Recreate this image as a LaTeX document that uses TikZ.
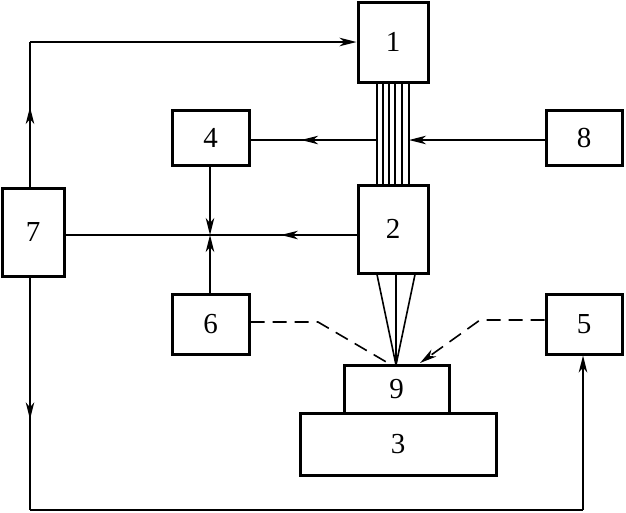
\documentclass[tikz,border=0pt]{standalone}
\usepackage{fontspec}
\setmainfont{Liberation Serif}
\usetikzlibrary{arrows.meta,decorations.markings}
\begin{document}
\begin{tikzpicture}[x=1pt,y=-1pt,
  blk/.style={draw,line width=3pt,inner sep=0pt,font=\fontsize{29}{29}\selectfont},
  ln/.style={line width=1.6pt},
  tip/.style={-{Stealth[length=17pt,width=8.5pt,inset=5pt]}},
  midarr/.style={postaction={decorate},decoration={markings,mark=at position #1 with {\arrow{Stealth[length=17pt,width=8.5pt,inset=5pt]}}}},
  dsh/.style={line width=1.6pt,dash pattern=on 14pt off 8pt}]
\useasboundingbox (0,0) rectangle (626,512);
\node[blk,minimum width=70pt,minimum height=80pt] (b1) at (393,42) {1};
\node[blk,minimum width=70pt,minimum height=88pt] (b2) at (393,229) {2};
\node[blk,minimum width=77pt,minimum height=55pt] (b4) at (210.5,137.5) {4};
\node[blk,minimum width=76pt,minimum height=55pt] (b8) at (584,137.5) {8};
\node[blk,minimum width=62pt,minimum height=88pt] (b7) at (33,232) {7};
\node[blk,minimum width=77pt,minimum height=60pt] (b6) at (210.5,324) {6};
\node[blk,minimum width=76pt,minimum height=60pt] (b5) at (584,324) {5};
\node[blk,minimum width=105pt,minimum height=48pt] (b9) at (396.5,389) {9};
\node[blk,minimum width=196pt,minimum height=62pt] (b3) at (398,444) {3};
% fibre bundle
\foreach \dx [count=\i] in {-16,-10,-4,2,9,16}
  \draw[ln] ([xshift=\dx pt]b1.south) coordinate (f\i) -- ([xshift=\dx pt]b2.north);
\coordinate (fl) at (377,140);
\coordinate (fr) at (409,140);
\coordinate (tl) at (30,42);
\coordinate (jn) at (210,235);
\coordinate (bl) at (30,510);
\coordinate (br) at (583,510);
\coordinate (focus) at (396,365);
\coordinate (d6) at (318,322);
\coordinate (d5) at (480,320);
% 7 -> 1
\draw[ln,midarr=0.55] (b7.north -| tl) -- (tl);
\draw[ln,tip] (tl) -- (b1.west |- tl);
% bundle -> 4, 8 -> bundle
\draw[ln,midarr=0.6] (fl) -- (b4.east |- fl);
\draw[ln,tip] (b8.west |- fr) -- (fr);
% 2 -> 7 line with junction
\draw[ln,midarr=0.26] (b2.west |- jn) -- (b7.east |- jn);
\draw[ln,tip] (b4.south -| jn) -- (jn);
\draw[ln,tip] (b6.north -| jn) -- (jn);
% 7 -> 5
\draw[ln,midarr=0.61] (b7.south -| bl) -- (bl);
\draw[ln] (bl) -- (br);
\draw[ln,tip] (br) -- (b5.south -| br);
% beam
\draw[ln] ([xshift=-16pt]b2.south) -- (focus);
\draw[ln] ([xshift=3pt]b2.south) -- (focus);
\draw[ln] ([xshift=22pt]b2.south) -- (focus);
% dashed
\draw[dsh] (b6.east |- d6) -- (d6) -- (388,363);
\draw[dsh,-{Stealth[length=17pt,width=8.5pt,inset=5pt]}] (b5.west |- d5) -- (d5) -- (420,363);
\end{tikzpicture}
\end{document}
